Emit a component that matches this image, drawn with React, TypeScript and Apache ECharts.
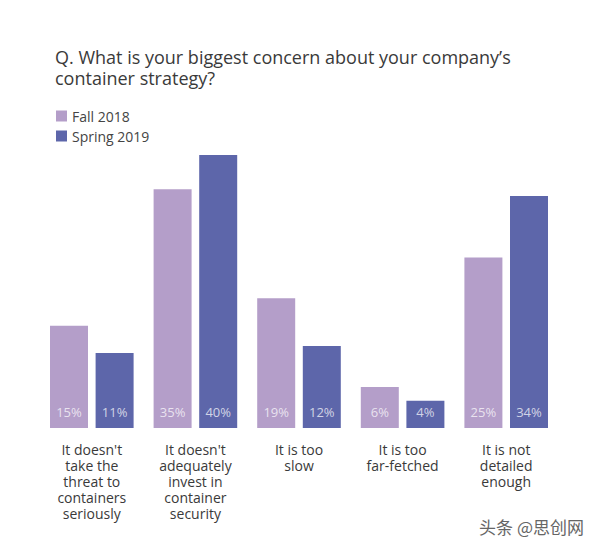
import React, { useEffect, useRef } from "react";
import * as echarts from "echarts";

const categories = [
  "It doesn't\ntake the\nthreat to\ncontainers\nseriously",
  "It doesn't\nadequately\ninvest in\ncontainer\nsecurity",
  "It is too\nslow",
  "It is too\nfar-fetched",
  "It is not\ndetailed\nenough",
];
const fall2018 = [15, 35, 19, 6, 25];
const spring2019 = [11, 40, 12, 4, 34];
const seriesNames = ["Fall 2018", "Spring 2019"];
const titleText = "Q. What is your biggest concern about your company\u2019s\ncontainer strategy?";

export default function App() {
  const ref = useRef<HTMLDivElement>(null);
  useEffect(() => {
    document.body.style.margin = "0";
    const chart = echarts.init(ref.current!, undefined, { renderer: "svg" });
    const font = "'Open Sans', 'Noto Sans', sans-serif";
    const label = {
      show: true,
      position: "insideBottom" as const,
      distance: 10,
      formatter: "{c}%",
      color: "rgba(255,255,255,0.72)",
      fontSize: 13,
      fontFamily: font,
    };
    chart.setOption({
      animation: false,
      backgroundColor: "#ffffff",
      title: {
        text: titleText,
        left: 50,
        top: 41,
        textStyle: {
          fontFamily: font,
          fontSize: 18,
          fontWeight: "normal",
          color: "#3a3a3a",
          lineHeight: 21,
        },
      },
      legend: {
        orient: "vertical",
        left: 51,
        top: 104,
        itemWidth: 11,
        itemHeight: 11,
        itemGap: 6,
        icon: "rect",
        textStyle: { fontFamily: font, fontSize: 14, color: "#444" },
        data: seriesNames,
      },
      grid: { left: 40, right: 38, top: 155, bottom: 122, containLabel: false },
      xAxis: {
        type: "category",
        data: categories,
        axisLine: { show: false },
        axisTick: { show: false },
        axisLabel: {
          interval: 0,
          margin: 14,
          fontFamily: font,
          fontSize: 14,
          lineHeight: 15.8,
          color: "#3a3a3a",
        },
      },
      yAxis: {
        type: "value",
        min: 0,
        max: 40,
        show: false,
        splitLine: { show: false },
      },
      series: [
        {
          name: seriesNames[0],
          type: "bar",
          data: fall2018,
          barWidth: 38,
          barGap: "20%",
          itemStyle: { color: "#b49ec9" },
          label,
        },
        {
          name: seriesNames[1],
          type: "bar",
          data: spring2019,
          barWidth: 38,
          barGap: "20%",
          itemStyle: { color: "#5d66aa" },
          label,
        },
      ],
      graphic: [
        {
          type: "text",
          right: 12,
          top: 518,
          style: {
            text: "头条 @思创网",
            fontFamily: "'Noto Sans CJK SC', sans-serif",
            fontSize: 17,
            fill: "#666",
          },
        },
      ],
    });
    return () => chart.dispose();
  }, []);
  return (
    <div
      ref={ref}
      style={{ position: "fixed", left: 0, top: 0, width: 596, height: 550 }}
    />
  );
}
